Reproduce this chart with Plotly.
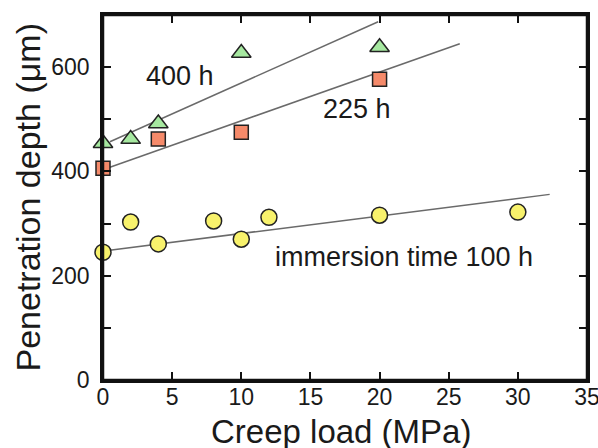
import plotly.graph_objects as go

# Data
x_100 = [0, 2, 4, 8, 10, 12, 20, 30]
y_100 = [245, 303, 261, 305, 270, 312, 316, 322]

x_225 = [0, 4, 10, 20]
y_225 = [406, 462, 475, 577]

x_400 = [0, 2, 4, 10, 20]
y_400 = [454, 462, 492, 627, 638]

# fitted trend lines (endpoints as drawn)
fit_100_x = [0.2, 32.3]
fit_100_y = [248, 356]
fit_225_x = [0.5, 25.8]
fit_225_y = [408, 645]
fit_400_x = [0.5, 19.9]
fit_400_y = [457, 687]

x_ticks = [0, 5, 10, 15, 20, 25, 30, 35]
y_ticks = [0, 100, 200, 300, 400, 500, 600, 700]
y_ticktext = ["0", "", "200", "", "400", "", "600", ""]

FONT = "Liberation Sans, Arial, Helvetica, sans-serif"
LINE_COLOR = "#6a6a6a"
TXT = "#1a1a1a"

fig = go.Figure()
for fx, fy in [(fit_100_x, fit_100_y), (fit_225_x, fit_225_y), (fit_400_x, fit_400_y)]:
    fig.add_trace(go.Scatter(x=fx, y=fy, mode="lines",
                             line=dict(color=LINE_COLOR, width=1.5),
                             showlegend=False, hoverinfo="skip"))

fig.add_trace(go.Scatter(x=x_100, y=y_100, mode="markers", name="100 h",
                         marker=dict(symbol="circle", size=16, color="#f8f26c",
                                     line=dict(color="#222222", width=1.5)),
                         cliponaxis=False))
fig.add_trace(go.Scatter(x=x_225, y=y_225, mode="markers", name="225 h",
                         marker=dict(symbol="square", size=14, color="#f58a6a",
                                     line=dict(color="#222222", width=1.5)),
                         cliponaxis=False))
fig.add_trace(go.Scatter(x=x_400, y=y_400, mode="markers", name="400 h",
                         marker=dict(symbol="triangle-up", size=17, color="#a6e8a0",
                                     line=dict(color="#222222", width=1.5)),
                         cliponaxis=False))

ann_font = dict(family=FONT, size=27, color=TXT)
fig.add_annotation(x=5.6, y=583, text="400 h", showarrow=False, font=ann_font)
fig.add_annotation(x=18.4, y=520, text="225 h", showarrow=False, font=ann_font)
fig.add_annotation(x=21.8, y=236, text="immersion time 100 h", showarrow=False, font=ann_font)

# axis titles as paper-anchored annotations for exact placement
fig.add_annotation(xref="paper", yref="paper", x=0.4925, y=-0.14,
                   text="Creep load (MPa)", showarrow=False,
                   xanchor="center", yanchor="middle",
                   font=dict(family=FONT, size=33, color=TXT))
fig.add_annotation(xref="paper", yref="paper", x=-0.155, y=0.5,
                   text="Penetration depth (μm)", showarrow=False, textangle=-90,
                   xanchor="center", yanchor="middle",
                   font=dict(family=FONT, size=34, color=TXT))

# plot frame
fig.add_shape(type="rect", xref="paper", yref="paper", x0=0, y0=0, x1=1, y1=1,
              line=dict(color="#111111", width=2.5), layer="above")

fig.update_layout(
    width=598, height=448,
    margin=dict(l=103, r=11, t=15, b=68),
    paper_bgcolor="white", plot_bgcolor="white",
    showlegend=False,
    font=dict(family=FONT, color=TXT),
)
fig.update_xaxes(
    range=[0, 35], tickvals=x_ticks, ticks="inside", ticklen=8, tickwidth=1.5,
    tickcolor="#111111", showline=True, linewidth=2.5, linecolor="#111111",
    mirror="ticks", showgrid=False, zeroline=False, automargin=False,
    ticklabeloverflow="allow", ticklabelstandoff=-5,
    tickfont=dict(family=FONT, size=23, color=TXT),
)
fig.update_yaxes(
    range=[0, 700], tickvals=y_ticks, ticktext=y_ticktext, ticks="inside", ticklen=8,
    tickwidth=1.5, tickcolor="#111111", showline=True, linewidth=2.5, linecolor="#111111",
    mirror="ticks", showgrid=False, zeroline=False, automargin=False,
    ticklabelstandoff=6,
    tickfont=dict(family=FONT, size=23, color=TXT),
)

fig.write_html("out.html", config={"displayModeBar": False},
               post_script="document.body.style.margin='0';document.body.style.overflow='hidden';")
